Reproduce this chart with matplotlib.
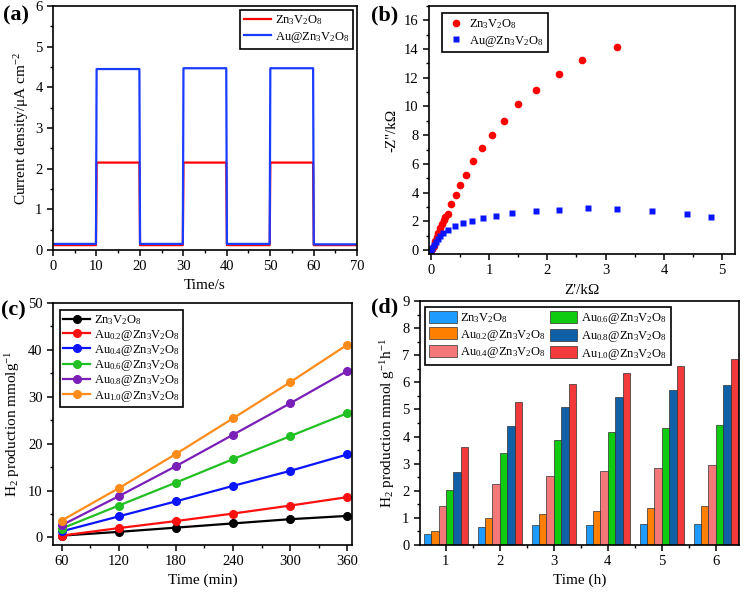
import matplotlib
matplotlib.use('Agg')
import matplotlib.pyplot as plt
import numpy as np
from matplotlib.ticker import AutoMinorLocator, MultipleLocator

plt.rcParams['font.family'] = ['Liberation Serif', 'DejaVu Serif']
plt.rcParams['mathtext.fontset'] = 'custom'
plt.rcParams['mathtext.rm'] = 'Liberation Serif'
plt.rcParams['mathtext.it'] = 'Liberation Serif:italic'
plt.rcParams['font.size'] = 10
plt.rcParams['axes.linewidth'] = 1.2

# (a) photocurrent on/off breakpoints
t_a = [0, 9.9, 10.05, 19.9, 20.05, 29.9, 30.05, 39.9, 40.05, 49.9, 50.05, 59.9, 60.05, 70]
j_zvo = [0.12, 0.12, 2.15, 2.15, 0.12, 0.12, 2.15, 2.15, 0.12, 0.12, 2.15, 2.15, 0.12, 0.12]
j_au = [0.15, 0.15, 4.45, 4.45, 0.15, 0.15, 4.47, 4.47, 0.15, 0.15, 4.47, 4.47, 0.14, 0.14]

# (b) Nyquist plots
zr_zvo = [0, 0.02, 0.05, 0.08, 0.1, 0.13, 0.16, 0.19, 0.22, 0.25, 0.29, 0.35, 0.43, 0.5,
          0.6, 0.72, 0.88, 1.05, 1.25, 1.5, 1.8, 2.2, 2.6, 3.2]
zi_zvo = [0, 0.1, 0.3, 0.6, 0.9, 1.2, 1.5, 1.8, 2.1, 2.3, 2.5, 3.2, 3.8, 4.5,
          5.2, 6.2, 7.1, 8.0, 9.0, 10.2, 11.15, 12.25, 13.25, 14.15]
zr_au = [0, 0.03, 0.06, 0.09, 0.12, 0.16, 0.21, 0.3, 0.42, 0.55, 0.7, 0.9, 1.12, 1.4,
         1.8, 2.2, 2.7, 3.2, 3.8, 4.4, 4.8]
zi_au = [0, 0.15, 0.35, 0.55, 0.75, 0.95, 1.15, 1.4, 1.65, 1.9, 2.05, 2.25, 2.4, 2.6,
         2.7, 2.8, 2.9, 2.88, 2.72, 2.5, 2.28]

# (c) cumulative H2 production
time_min = [60, 120, 180, 240, 300, 360]
samples = ['Zn$_3$V$_2$O$_8$', 'Au$_{0.2}$@Zn$_3$V$_2$O$_8$', 'Au$_{0.4}$@Zn$_3$V$_2$O$_8$',
           'Au$_{0.6}$@Zn$_3$V$_2$O$_8$', 'Au$_{0.8}$@Zn$_3$V$_2$O$_8$', 'Au$_{1.0}$@Zn$_3$V$_2$O$_8$']
h2_zvo = [0.4, 1.2, 2.1, 3.0, 3.9, 4.6]
h2_au02 = [0.4, 2.0, 3.5, 5.1, 6.8, 8.6]
h2_au04 = [1.3, 4.5, 7.7, 11.0, 14.2, 17.7]
h2_au06 = [1.9, 6.8, 11.7, 16.7, 21.6, 26.5]
h2_au08 = [2.6, 8.8, 15.2, 21.9, 28.6, 35.5]
h2_au10 = [3.6, 10.5, 17.8, 25.4, 33.1, 41.1]

# (d) H2 production rate
time_h = [1, 2, 3, 4, 5, 6]
rate_zvo = [0.42, 0.65, 0.72, 0.75, 0.78, 0.78]
rate_au02 = [0.5, 1.0, 1.15, 1.27, 1.37, 1.43]
rate_au04 = [1.45, 2.25, 2.55, 2.73, 2.85, 2.95]
rate_au06 = [2.02, 3.4, 3.88, 4.18, 4.32, 4.42]
rate_au08 = [2.68, 4.4, 5.08, 5.47, 5.72, 5.9]
rate_au10 = [3.6, 5.28, 5.95, 6.35, 6.62, 6.85]

fig = plt.figure(figsize=(7.44, 5.94), dpi=100)
ax_a = fig.add_axes([0.0712, 0.5791, 0.4086, 0.4108])
ax_b = fig.add_axes([0.5766, 0.5724, 0.4113, 0.4175])
ax_c = fig.add_axes([0.0712, 0.0825, 0.4019, 0.4074])
ax_d = fig.add_axes([0.5645, 0.0825, 0.4288, 0.4108])

for ax in (ax_a, ax_b, ax_c, ax_d):
    ax.tick_params(which='major', direction='out', length=4, width=1.1, labelsize=10.5)
    ax.tick_params(which='minor', direction='out', length=2, width=1)
    ax.xaxis.set_minor_locator(AutoMinorLocator(2))
    ax.yaxis.set_minor_locator(AutoMinorLocator(2))

leg_kw = dict(frameon=True, fancybox=False, edgecolor='black', framealpha=1,
              borderpad=0.3, labelspacing=0.2, handletextpad=0.3, fontsize=9,
              borderaxespad=0.3)

# (a)
ax_a.plot(t_a, j_zvo, color='#ff0000', lw=1.6, label='Zn$_3$V$_2$O$_8$')
ax_a.plot(t_a, j_au, color='#1a3cff', lw=1.6, label='Au@Zn$_3$V$_2$O$_8$')
ax_a.set_xlim(0, 70)
ax_a.set_ylim(0, 6)
ax_a.xaxis.set_major_locator(MultipleLocator(10))
ax_a.set_xlabel('Time/s', fontsize=11)
ax_a.set_ylabel('Current density/μA cm$^{-2}$', fontsize=11, labelpad=3)
lg = ax_a.legend(loc='upper right', handlelength=2.2, **leg_kw)
lg.get_frame().set_linewidth(1.2)

# (b)
ax_b.plot(zr_zvo, zi_zvo, 'o', color='#ff0000', ms=5.5, mec='none', label='Zn$_3$V$_2$O$_8$')
ax_b.plot(zr_au, zi_au, 's', color='#0a14ff', ms=5, mec='none', label='Au@Zn$_3$V$_2$O$_8$')
ax_b.set_xlim(-0.03, 5.22)
ax_b.set_ylim(-0.28, 17)
ax_b.xaxis.set_major_locator(MultipleLocator(1))
ax_b.yaxis.set_major_locator(MultipleLocator(2))
ax_b.set_xlabel("Z'/kΩ", fontsize=11, labelpad=5)
ax_b.set_ylabel("-Z''/kΩ", fontsize=11)
lg = ax_b.legend(loc='upper left', handlelength=1.6, bbox_to_anchor=(0.03, 0.985), **leg_kw)
lg.get_frame().set_linewidth(1.2)

# (c)
c_colors = ['#000000', '#ff1010', '#0a14ff', '#22c022', '#7a1fb8', '#ff8c1a']
c_series = [h2_zvo, h2_au02, h2_au04, h2_au06, h2_au08, h2_au10]
for vals, col, lab in zip(c_series, c_colors, samples):
    ax_c.plot(time_min, vals, '-o', color=col, lw=1.6, ms=5.5, mec=col, mfc=col, label=lab)
ax_c.set_xlim(51, 365)
ax_c.set_ylim(-1.6, 50)
ax_c.set_xticks(time_min)
ax_c.xaxis.set_minor_locator(AutoMinorLocator(2))
ax_c.yaxis.set_major_locator(MultipleLocator(10))
ax_c.set_xlabel('Time (min)', fontsize=11)
ax_c.set_ylabel('H$_2$ production mmolg$^{-1}$', fontsize=11)
c_kw = dict(leg_kw, labelspacing=0.02, borderpad=0.25)
lg = ax_c.legend(loc='upper left', handlelength=2.2, bbox_to_anchor=(0.01, 0.985), **c_kw)
lg.get_frame().set_linewidth(1.2)

# (d)
d_colors = ['#1e9bff', '#ff8000', '#f57878', '#10cc10', '#1060a8', '#f23a3a']
d_series = [rate_zvo, rate_au02, rate_au04, rate_au06, rate_au08, rate_au10]
bw = 0.137
x = np.array(time_h, dtype=float)
for i, (vals, col, lab) in enumerate(zip(d_series, d_colors, samples)):
    ax_d.bar(x + (i - 2.5) * bw, vals, width=bw, color=col, edgecolor='#303030',
             linewidth=0.5, label=lab)
ax_d.set_xlim(0.52, 6.43)
ax_d.set_ylim(0, 9)
ax_d.set_xticks(time_h)
ax_d.yaxis.set_major_locator(MultipleLocator(1))
ax_d.set_xlabel('Time (h)', fontsize=11)
ax_d.set_ylabel('H$_2$ production mmol g$^{-1}$h$^{-1}$', fontsize=11)
lg = ax_d.legend(loc='upper left', ncol=2, handlelength=2.2, handleheight=1.1,
                 columnspacing=0.3, bbox_to_anchor=(0.005, 0.99), **leg_kw)
lg.get_frame().set_linewidth(1.2)

# panel letters
for txt, xx, yy in [('(a)', 0.004, 0.974), ('(b)', 0.499, 0.974),
                    ('(c)', 0.002, 0.478), ('(d)', 0.499, 0.483)]:
    fig.text(xx, yy, txt, fontsize=16, fontweight='bold', ha='left', va='center')

fig.savefig('out.png', dpi=100)
